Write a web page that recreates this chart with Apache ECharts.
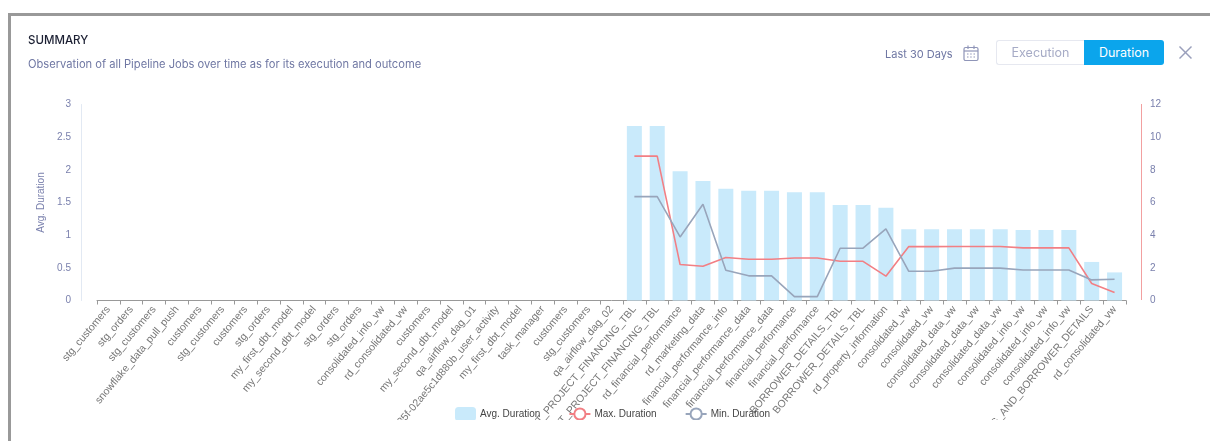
<!DOCTYPE html>
<html><head><meta charset="utf-8">
<script src="https://cdn.jsdelivr.net/npm/echarts@6/dist/echarts.min.js"></script>
<style>
html,body{margin:0;padding:0;background:#fff;width:1210px;height:441px;overflow:hidden}
#frame{position:absolute;left:8px;top:13px;width:1202px;height:428px;border-left:3px solid #999;border-top:3px solid #999;box-sizing:border-box}
#chart{position:absolute;left:0;top:0;width:1210px;height:420px}
.t{position:absolute;font-family:Inter,"Open Sans",sans-serif;white-space:nowrap}
</style></head><body>
<div id="frame"></div>
<div id="chart"></div>
<div class="t" style="left:28px;top:33px;font-size:11.5px;font-weight:500;color:#1c2033">SUMMARY</div>
<div class="t" style="left:28px;top:57px;font-size:11.15px;color:#6f77a3">Observation of all Pipeline Jobs over time as for its execution and outcome</div>
<div class="t" style="left:885px;top:47px;font-size:11px;color:#6f77a3">Last 30 Days</div>
<svg style="position:absolute;left:962px;top:44px" width="18" height="18" viewBox="0 0 18 18" fill="none" stroke="#8f95b8" stroke-width="1.2">
<rect x="2" y="3.5" width="14" height="13" rx="1.5"/><line x1="2" y1="7" x2="16" y2="7"/><line x1="6" y1="1.5" x2="6" y2="5"/><line x1="12" y1="1.5" x2="12" y2="5"/>
<path d="M5 10h1.5M8.2 10h1.5M11.5 10h1.5M5 13h1.5M8.2 13h1.5M11.5 13h1.5"/></svg>
<div class="t" style="left:996px;top:40px;width:88px;height:25px;box-sizing:border-box;border:1px solid #e6e8f0;border-right:0;border-radius:3px 0 0 3px;font-size:12.5px;line-height:23px;text-align:center;color:#a6abc6">Execution</div>
<div class="t" style="left:1084px;top:40px;width:80px;height:25px;background:#0ba5ec;border-radius:0 3px 3px 0;font-size:12.5px;line-height:25px;text-align:center;color:#fff">Duration</div>
<svg style="position:absolute;left:1178px;top:45px" width="15" height="15" viewBox="0 0 15 15" stroke="#9a9fbb" stroke-width="1.5"><line x1="1.5" y1="1.5" x2="13.5" y2="13.5"/><line x1="13.5" y1="1.5" x2="1.5" y2="13.5"/></svg>
<script>
const categories = ["stg_customers","stg_orders","stg_customers","snowflake_data_pull_push","customers","stg_customers","customers","stg_orders","my_first_dbt_model","my_second_dbt_model","stg_orders","stg_orders","consolidated_info_vw","rd_consolidated_vw","customers","my_second_dbt_model","qa_airflow_dag_01","dag_35f-02ae5c1d880b_user_activity","my_first_dbt_model","task_manager","customers","stg_customers","qa_airflow_dag_02","FACT_PROJECT_FINANCING_TBL","FACT_PROJECT_FINANCING_TBL","rd_financial_performance","rd_marketing_data","financial_performance_info","financial_performance_data","financial_performance_data","financial_performance","financial_performance","BORROWER_DETAILS_TBL","BORROWER_DETAILS_TBL","rd_property_information","consolidated_vw","consolidated_vw","consolidated_data_vw","consolidated_data_vw","consolidated_data_vw","consolidated_info_vw","consolidated_info_vw","consolidated_info_vw","FINANCING_AND_BORROWER_DETAILS","rd_consolidated_vw"];
const blanks = [null,null,null,null,null,null,null,null,null,null,null,null,null,null,null,null,null,null,null,null,null,null,null];
const avgDuration = [2.67,2.67,1.98,1.83,1.71,1.68,1.68,1.655,1.655,1.46,1.46,1.42,1.09,1.09,1.09,1.09,1.09,1.08,1.08,1.08,0.59,0.43];
const maxDuration = [8.84,8.84,2.2,2.1,2.63,2.53,2.53,2.6,2.6,2.4,2.4,1.49,3.3,3.3,3.31,3.31,3.31,3.22,3.22,3.22,1.04,0.49];
const minDuration = [6.36,6.36,3.89,5.89,1.85,1.51,1.51,0.24,0.24,3.2,3.2,4.38,1.79,1.79,1.98,1.98,1.98,1.87,1.87,1.87,1.26,1.3];
const leftTicks = [0,0.5,1,1.5,2,2.5,3];
const rightTicks = [0,2,4,6,8,10,12];
const labelBlue = '#7a80ad';
const chart = echarts.init(document.getElementById('chart'));
chart.setOption({
  animation:false,
  textStyle:{fontFamily:'"Liberation Sans",Arial,sans-serif'},
  grid:{left:97,right:84,top:104.5,bottom:119.5,containLabel:false,outerBoundsMode:'none'},
  legend:{left:450,top:402,itemWidth:21,itemHeight:14,itemGap:28,selectedMode:false,
    textStyle:{fontSize:10,color:'#444',fontFamily:'"Liberation Sans",Arial,sans-serif',padding:[0,0,0,-1]},
    data:[{name:'Avg. Duration',icon:'roundRect'},'Max. Duration','Min. Duration']},
  xAxis:{type:'category',data:categories,
    axisLine:{lineStyle:{color:'#999',width:1}},
    axisTick:{show:true,length:4,lineStyle:{color:'#999'}},
    axisLabel:{rotate:50,interval:0,fontSize:10.5,color:'#777',margin:7}},
  yAxis:[
    {type:'value',min:leftTicks[0],max:leftTicks[leftTicks.length-1],interval:0.5,offset:16,
     name:'Avg. Duration',nameLocation:'middle',nameGap:28,nameRotate:90,nameTextStyle:{color:labelBlue,fontSize:10},
     axisLine:{show:true,lineStyle:{color:'#e2e9f3'}},axisTick:{show:false},splitLine:{show:false},
     axisLabel:{color:labelBlue,fontSize:10,margin:10,align:'right'}},
    {type:'value',min:rightTicks[0],max:rightTicks[rightTicks.length-1],interval:2,offset:15,position:'right',
     axisLine:{show:false},axisTick:{show:false},splitLine:{show:false},
     axisLabel:{color:labelBlue,fontSize:10,margin:9}}
  ],
  graphic:[{type:'line',silent:true,shape:{x1:1141.5,y1:104,x2:1141.5,y2:300},style:{stroke:'#f2a0a0',lineWidth:1}}],
  series:[
    {name:'Avg. Duration',type:'bar',barWidth:15,data:blanks.concat(avgDuration),itemStyle:{color:'#c9eafb'}},
    {name:'Max. Duration',type:'line',yAxisIndex:1,data:blanks.concat(maxDuration),showSymbol:false,symbol:'circle',symbolSize:11,
     lineStyle:{color:'#f27f84',width:1.6},itemStyle:{color:'#fff',borderColor:'#f27f84',borderWidth:1.5}},
    {name:'Min. Duration',type:'line',yAxisIndex:1,data:blanks.concat(minDuration),showSymbol:false,symbol:'circle',symbolSize:11,
     lineStyle:{color:'#98a5bb',width:1.6},itemStyle:{color:'#fff',borderColor:'#98a5bb',borderWidth:1.5}}
  ]
});
</script>
</body></html>
